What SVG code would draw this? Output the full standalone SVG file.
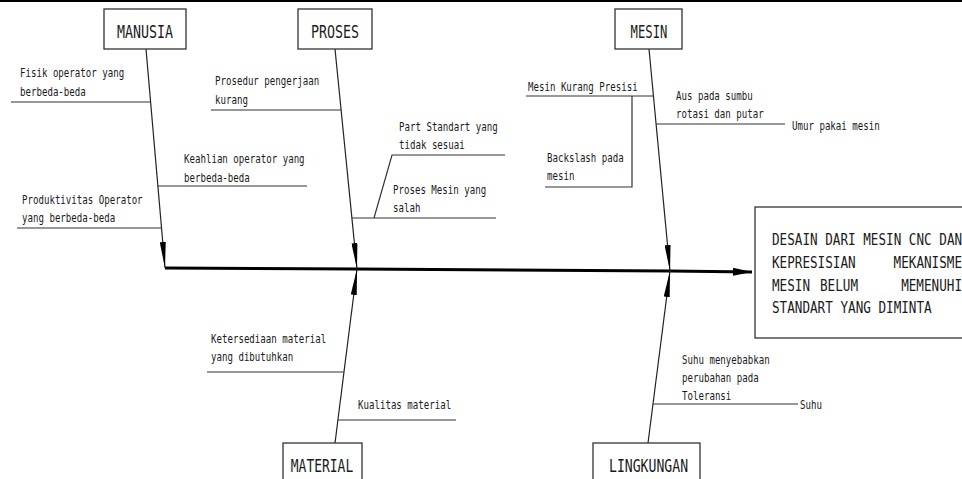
<svg xmlns="http://www.w3.org/2000/svg" width="962" height="479" viewBox="0 0 962 479">
<style>
.bg{fill:#ffffff}
.box{fill:#ffffff;stroke:#333333;stroke-width:1.3}
.br{fill:none;stroke:#333333;stroke-width:1.2}
.bone{fill:none;stroke:#222222;stroke-width:1.2}
.spine{fill:none;stroke:#000000;stroke-width:3}
.t{font-family:"DejaVu Sans Mono","Liberation Mono",monospace;font-size:12px;fill:#1a1a1a}
.h{font-family:"DejaVu Sans Mono","Liberation Mono",monospace;font-size:18px;fill:#1a1a1a;text-anchor:middle}
.e{font-family:"DejaVu Sans Mono","Liberation Mono",monospace;font-size:16px;fill:#1a1a1a}
</style>
<defs>
<marker id="bonearrow" viewBox="0 -3 26 6" refX="26" refY="0" markerWidth="26" markerHeight="6" markerUnits="userSpaceOnUse" orient="auto">
<path d="M0,-3 L26,0 L0,3 z" fill="#000000"/>
</marker>
<marker id="spinearrow" viewBox="0 -4 19 8" refX="19" refY="0" markerWidth="19" markerHeight="8" markerUnits="userSpaceOnUse" orient="auto">
<path d="M0,-4 L19,0 L0,4 z" fill="#000000"/>
</marker>
</defs>
<rect class="bg" x="0" y="0" width="962" height="479"/>
<line x1="0" y1="1" x2="962" y2="1" stroke="#000000" stroke-width="2"/>

<g id="connectors">
<path class="spine" d="M165,268 L357,269 L670,271 L752,272" marker-end="url(#spinearrow)"/>
<line class="bone" x1="146" y1="49" x2="165" y2="268" marker-end="url(#bonearrow)"/>
<line class="bone" x1="335" y1="49" x2="357" y2="269" marker-end="url(#bonearrow)"/>
<line class="bone" x1="649" y1="49" x2="670" y2="271" marker-end="url(#bonearrow)"/>
<line class="bone" x1="335" y1="443" x2="357" y2="269" marker-end="url(#bonearrow)"/>
<line class="bone" x1="648" y1="443" x2="670" y2="271" marker-end="url(#bonearrow)"/>
<line class="br" x1="11" y1="102" x2="150.6" y2="102"/>
<line class="br" x1="157.9" y1="186" x2="307" y2="186"/>
<line class="br" x1="17" y1="228" x2="161.5" y2="228"/>
<line class="br" x1="211" y1="110" x2="341.1" y2="110"/>
<line class="br" x1="351.9" y1="218" x2="496" y2="218"/>
<polyline class="br" points="505,155 392,155 374,218"/>
<line class="br" x1="526" y1="96" x2="653.4" y2="96"/>
<polyline class="br" points="632,96 632,187 545,187"/>
<line class="br" x1="656.1" y1="124" x2="785" y2="124"/>
<line class="br" x1="207" y1="372" x2="344" y2="372"/>
<line class="br" x1="337.9" y1="420" x2="456" y2="420"/>
<line class="br" x1="653" y1="404" x2="798" y2="404"/>
</g>

<g id="node-manusia">
<rect class="box" x="104" y="9" width="82" height="40"/>
<text class="h" transform="translate(145,38) scale(0.74,1)">MANUSIA</text>
</g>
<g id="node-proses">
<rect class="box" x="298" y="9" width="74" height="40"/>
<text class="h" transform="translate(335,38) scale(0.74,1)">PROSES</text>
</g>
<g id="node-mesin">
<rect class="box" x="615" y="9" width="67" height="40"/>
<text class="h" transform="translate(649,38) scale(0.68,1)">MESIN</text>
</g>
<g id="node-material">
<rect class="box" x="283" y="443" width="79" height="45"/>
<text class="h" transform="translate(322,472) scale(0.72,1)">MATERIAL</text>
</g>
<g id="node-lingkungan">
<rect class="box" x="593" y="443" width="107" height="45"/>
<text class="h" transform="translate(648.5,472) scale(0.73,1)">LINGKUNGAN</text>
</g>
<g id="node-effect">
<rect class="box" x="755" y="207" width="220" height="131"/>
<text class="e" transform="translate(772,245) scale(0.79,1)">DESAIN DARI MESIN CNC DAN</text>
<text class="e" transform="translate(772,268) scale(0.79,1)">KEPRESISIAN</text>
<text class="e" text-anchor="end" transform="translate(962,268) scale(0.79,1)">MEKANISME</text>
<text class="e" transform="translate(772,291) scale(0.79,1)">MESIN</text>
<text class="e" transform="translate(820,291) scale(0.79,1)">BELUM</text>
<text class="e" text-anchor="end" transform="translate(962,291) scale(0.79,1)">MEMENUHI</text>
<text class="e" transform="translate(772,313) scale(0.79,1)">STANDART YANG DIMINTA</text>
</g>

<g id="causes">
<text class="t" transform="translate(20,77) scale(0.76,1)"><tspan x="0">Fisik operator yang</tspan><tspan x="0" dy="19">berbeda-beda</tspan></text>
<text class="t" transform="translate(184,163) scale(0.76,1)"><tspan x="0">Keahlian operator yang</tspan><tspan x="0" dy="19">berbeda-beda</tspan></text>
<text class="t" transform="translate(22,204) scale(0.76,1)"><tspan x="0">Produktivitas Operator</tspan><tspan x="0" dy="18">yang berbeda-beda</tspan></text>
<text class="t" transform="translate(215,85) scale(0.76,1)"><tspan x="0">Prosedur pengerjaan</tspan><tspan x="0" dy="19">kurang</tspan></text>
<text class="t" transform="translate(399,131) scale(0.76,1)"><tspan x="0">Part Standart yang</tspan><tspan x="0" dy="18">tidak sesuai</tspan></text>
<text class="t" transform="translate(393,194) scale(0.76,1)"><tspan x="0">Proses Mesin yang</tspan><tspan x="0" dy="18">salah</tspan></text>
<text class="t" transform="translate(528,91) scale(0.76,1)">Mesin Kurang Presisi</text>
<text class="t" transform="translate(547,162) scale(0.76,1)"><tspan x="0">Backslash pada</tspan><tspan x="0" dy="18">mesin</tspan></text>
<text class="t" transform="translate(676,100) scale(0.76,1)"><tspan x="0">Aus pada sumbu</tspan><tspan x="0" dy="18">rotasi dan putar</tspan></text>
<text class="t" transform="translate(792,130) scale(0.76,1)">Umur pakai mesin</text>
<text class="t" transform="translate(211,343) scale(0.76,1)"><tspan x="0">Ketersediaan material</tspan><tspan x="0" dy="18">yang dibutuhkan</tspan></text>
<text class="t" transform="translate(358,409) scale(0.76,1)">Kualitas material</text>
<text class="t" transform="translate(682,364) scale(0.76,1)"><tspan x="0">Suhu menyebabkan</tspan><tspan x="0" dy="18">perubahan pada</tspan><tspan x="0" dy="18">Toleransi</tspan></text>
<text class="t" transform="translate(800,409) scale(0.76,1)">Suhu</text>
</g>
</svg>
